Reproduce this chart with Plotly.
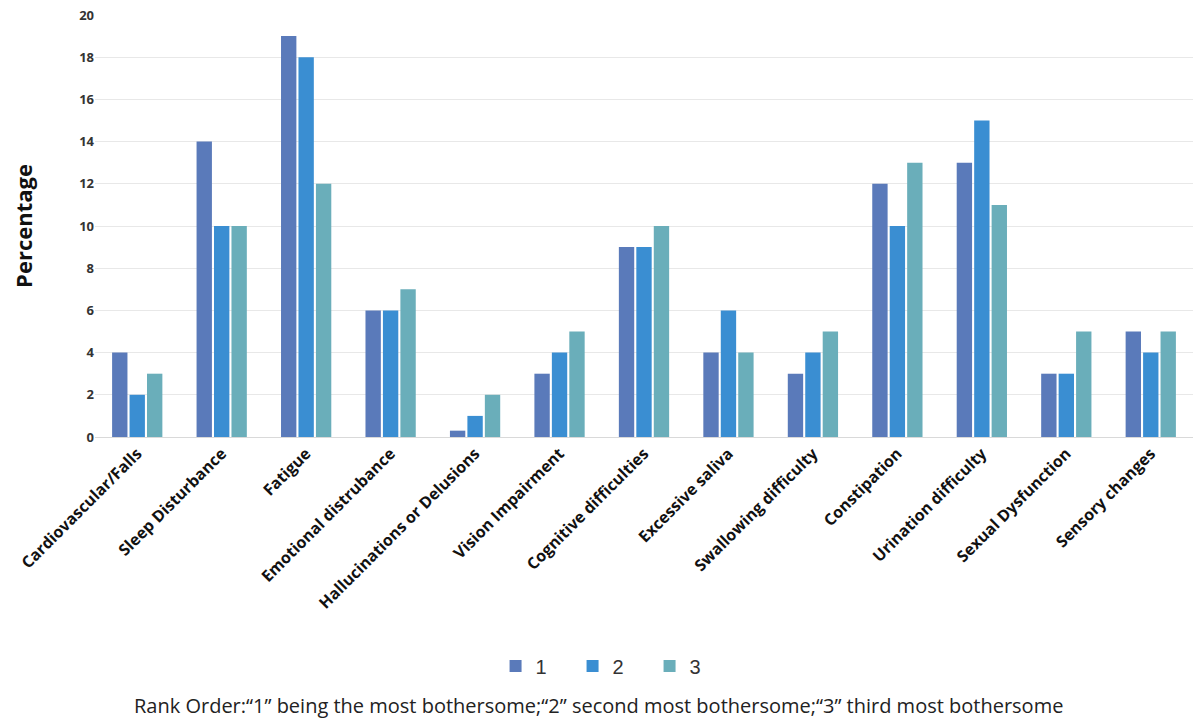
import plotly.graph_objects as go

categories = [
    "Cardiovascular/Falls", "Sleep Disturbance", "Fatigue", "Emotional distrubance",
    "Hallucinations or Delusions", "Vision Impairment", "Cognitive difficulties",
    "Excessive saliva", "Swallowing difficulty", "Constipation", "Urination difficulty",
    "Sexual Dysfunction", "Sensory changes",
]
rank1 = [4, 14, 19, 6, 0.3, 3, 9, 4, 3, 12, 13, 3, 5]
rank2 = [2, 10, 18, 6, 1, 4, 9, 6, 4, 10, 15, 3, 4]
rank3 = [3, 10, 12, 7, 2, 5, 10, 4, 5, 13, 11, 5, 5]
series_names = ["1", "2", "3"]
colors = ["#5a7aba", "#3a8ed2", "#6aaeba"]

fig = go.Figure()
for name, vals, col in zip(series_names, [rank1, rank2, rank3], colors):
    fig.add_trace(go.Bar(x=categories, y=vals, name=name, marker_color=col,
                         marker_line_width=0))

H = 422
fig.update_layout(
    width=1197, height=723,
    margin=dict(l=95, r=4, t=15, b=286),
    paper_bgcolor="white", plot_bgcolor="white",
    barmode="group", bargap=0.38, bargroupgap=0.12,
    font=dict(family="Open Sans", color="#222"),
    showlegend=True,
    legend=dict(orientation="h", x=0.47, xanchor="center", y=-229 / H, yanchor="middle",
                font=dict(size=20, family="Liberation Sans", color="#333"),
                itemwidth=30, entrywidth=32, entrywidthmode="pixels", traceorder="normal"),
    xaxis=dict(tickangle=-45, tickfont=dict(size=16, family="Open Sans", weight="bold", color="#111"),
               showline=True, linecolor="#d9d9d9", ticks=""),
    yaxis=dict(range=[0, 20], dtick=2, showgrid=True, gridcolor="#e8e8e8",
               zeroline=False, tickfont=dict(size=13, weight="bold", color="#333"),
               title=dict(text="Percentage", font=dict(size=22, weight="bold", color="#111"),
                          standoff=40)),
    annotations=[dict(
        text="Rank Order:\u201c1\u201d being the most bothersome;\u201c2\u201d second most bothersome;\u201c3\u201d third most bothersome",
        xref="paper", yref="paper", x=0.459, y=-268 / H, xanchor="center", yanchor="middle",
        showarrow=False, font=dict(size=20, family="Open Sans", color="#222"))],
)

fig.write_html("out.html")
